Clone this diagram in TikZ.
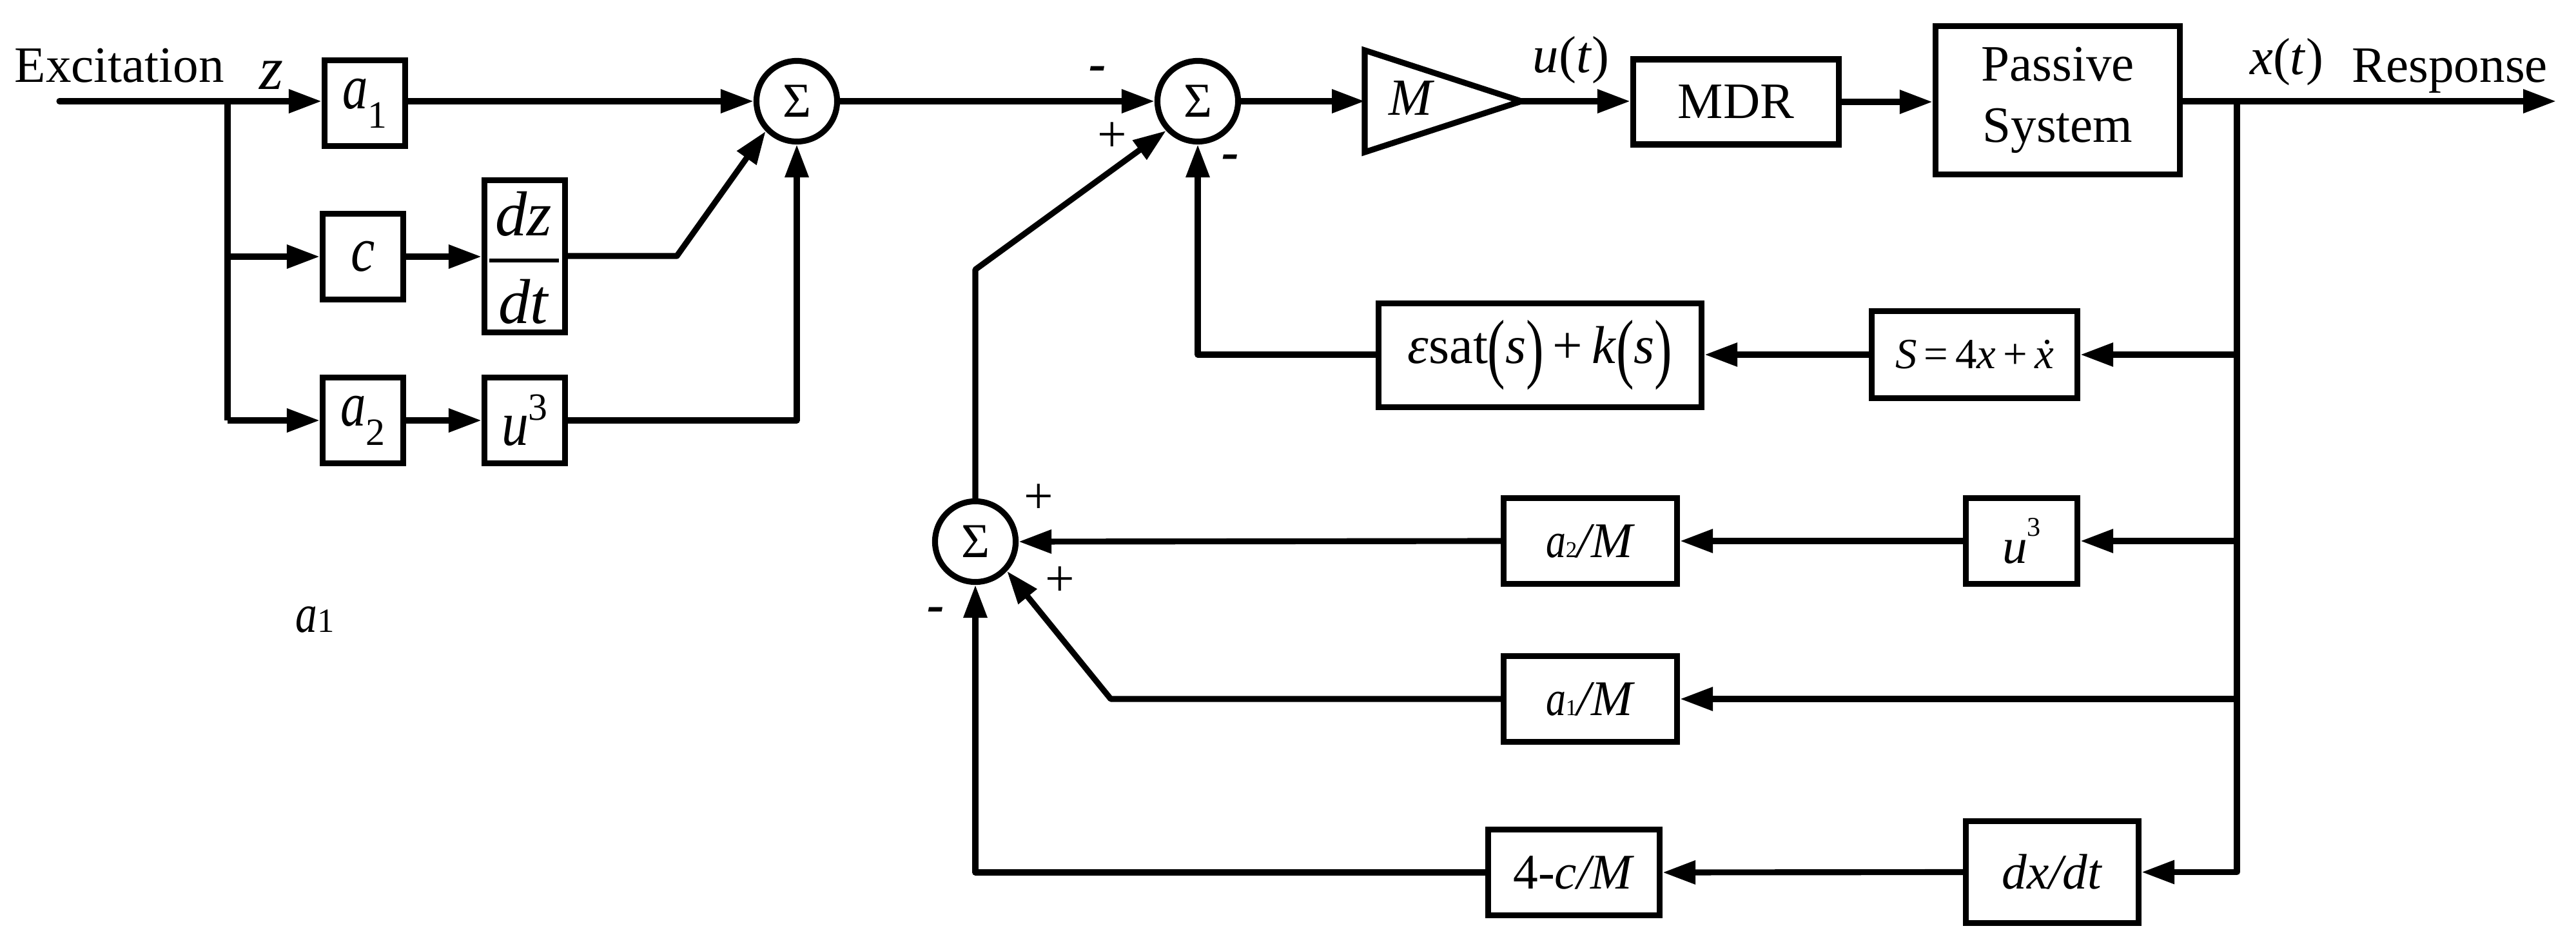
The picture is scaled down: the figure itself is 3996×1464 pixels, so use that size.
\documentclass[tikz,border=0pt]{standalone}
\usepackage{fontspec}
\setmainfont{Liberation Serif}
\usepackage{graphicx}
\usetikzlibrary{arrows.meta}
\newcommand{\fsz}[1]{\fontsize{#1}{#1}\selectfont}
\newcommand{\ca}{\scalebox{0.8}[1]{\itshape a}}
\newcommand{\cu}{\scalebox{0.85}[1]{\itshape u}}
\newcommand{\bp}[1]{\raisebox{-0.2em}{\scalebox{1}[1.45]{#1}}}
\begin{document}
\begin{tikzpicture}[x=0.01cm,y=-0.01cm,
  blk/.style={draw, line width=2.6pt, inner sep=0pt},
  sumn/.style={circle, draw, line width=2.6pt, minimum size=1.25cm, inner sep=0pt, font=\fsz{21.5pt}},
  conn/.style={line width=2.6pt, line join=round},
  arr/.style={conn, -{Triangle[length=14.5pt,width=10pt]}},
  lab/.style={inner sep=0pt},
  sgn/.style={inner sep=0pt, font=\fsz{23pt}},
  big/.style={font=\fsz{28pt}},
  mid/.style={font=\fsz{22pt}}]
\useasboundingbox (0,0) rectangle (3996,1464);

% ---- left part ----
\node[lab, anchor=base west, font=\fsz{22.5pt}] (exctext) at (22,128) {Excitation};
\node[lab, font=\fsz{27pt}\itshape] (zlab) at (421,117) {z};
\node[blk, big, minimum width=1.25cm, minimum height=1.33cm] (a1) at (566,160) {\ca\raisebox{-8.5pt}{\fsz{17pt}1}};
\node[blk, big, minimum width=1.25cm, minimum height=1.33cm] (c) at (563,398) {\scalebox{0.85}[1]{\itshape c}};
\node[blk, minimum width=1.25cm, minimum height=2.36cm] (dzdt) at (814,397.5) {};
\node[lab, big] (dz) at (812,332) {\itshape dz};
\node[lab, big] (dt) at (812,468) {\itshape dt};
\draw[line width=0.06cm] (759,404) -- (867,404);
\node[blk, big, minimum width=1.25cm, minimum height=1.33cm] (a2) at (563,652) {\ca\raisebox{-8.5pt}{\fsz{17pt}2}};
\node[blk, big, minimum width=1.25cm, minimum height=1.33cm] (u3t) at (814,652) {\cu\raisebox{11pt}{\fsz{17pt}3}};
\node[sumn] (sum1) at (1236,157) {Σ};
\node[sumn] (sum2) at (1858,157) {Σ};

% ---- forward path ----
\coordinate (mL) at (2117,157);
\coordinate (mT) at (2360,157);
\draw[line width=2.6pt] (2117,78) -- (mT) -- (2117,236) -- cycle;
\node[lab, font=\fsz{23pt}\itshape] (mlab) at (2188,152) {M};
\node[lab, font=\fsz{23pt}] (ulab) at (2437,93) {\textit{u}(\textit{t})};
\node[blk, font=\fsz{22.5pt}, minimum width=3.19cm, minimum height=1.32cm] (mdr) at (2693,158) {MDR};
\node[blk, font=\fontsize{22.5pt}{27pt}\selectfont, align=center, minimum width=3.79cm, minimum height=2.30cm] (ps) at (3192,155.5) {Passive\\System};
\node[lab, font=\fsz{23pt}] (xlab) at (3547,96) {\textit{x}(\textit{t})};
\node[lab, anchor=base west, font=\fsz{22.5pt}] (resp) at (3648,128) {Response};

% ---- feedback blocks ----
\node[blk, font=\fsz{23.5pt}, minimum width=5.01cm, minimum height=1.61cm] (es) at (2389,551) {\textit{ε}sat\bp{(}\textit{s}\bp{)}\,+\,\textit{k}\bp{(}\textit{s}\bp{)}};
\node[blk, font=\fsz{19pt}, minimum width=3.19cm, minimum height=1.35cm] (sb) at (3063,550) {\textit{S}\,=\,4\textit{x}\,+\,\textit{\.{x}}};
\node[sumn] (sum3) at (1513,840) {Σ};
\node[blk, mid, minimum width=2.69cm, minimum height=1.33cm] (a2m) at (2467,839) {\ca\fsz{10pt}2\fsz{22pt}\textit{/M}};
\node[blk, mid, minimum width=1.73cm, minimum height=1.33cm] (u3l) at (3136,839) {\textit{u}\raisebox{0.55em}{\fsz{12pt}3}};
\node[blk, mid, minimum width=2.69cm, minimum height=1.33cm] (a1m) at (2467,1084) {\ca\fsz{10pt}1\fsz{22pt}\textit{/M}};
\node[blk, mid, minimum width=2.66cm, minimum height=1.33cm] (cm) at (2441.5,1353) {4-\textit{c/M}};
\node[blk, mid, minimum width=2.68cm, minimum height=1.58cm] (dxdt) at (3183.5,1352.5) {\textit{dx/dt}};
\node[lab, font=\fsz{24pt}] (stray) at (489,961) {\ca\fsz{15pt}1};

% ---- signs ----
\node[sgn] (s1) at (1703,114) {\textbf{\textit{-}}};
\node[sgn] (s2) at (1725,213) {+};
\node[sgn] (s3) at (1909,251) {\textbf{\textit{-}}};
\node[sgn] (s4) at (1611,774) {+};
\node[sgn] (s5) at (1644,902) {+};
\node[sgn] (s6) at (1452,953) {\textbf{\textit{-}}};

% ---- connectors ----
\coordinate (exc) at (92,157);
\coordinate (brL) at (353,157);
\coordinate (k1) at (1050,397);
\coordinate (brR) at (3470,157);
\coordinate (outR) at (3965,157);
\coordinate (k2) at (1723,1084);
\coordinate (k3) at (1513,418);

\draw[arr, line cap=round] (exc) -- (exc -| a1.west);
\draw[conn] (brL) -- (brL |- a2);
\draw[arr] (brL |- c) -- (c.west);
\draw[arr] (brL |- a2) -- (a2.west);
\draw[arr] (c.east) -- (dzdt.west |- c);
\draw[arr] (a2.east) -- (u3t.west);
\draw[arr] (a1.east |- sum1) -- (sum1.west);
\draw[arr] (dzdt.east |- k1) -- (k1) -- (sum1.224);
\draw[arr] (u3t.east) -- (u3t.east -| sum1) -- (sum1.south);
\draw[arr] (sum1.east) -- (sum2.west);
\draw[arr] (sum2.east) -- (mL);
\draw[arr] (mT) -- (mT -| mdr.west);
\draw[arr] (mdr.east) -- (mdr.east -| ps.west);
\draw[arr] (ps.east |- brR) -- (outR);
\draw[arr] (brR) -- (brR |- dxdt) -- (dxdt.east);
\draw[arr] (brR |- sb) -- (sb.east);
\draw[arr] (brR |- u3l) -- (u3l.east);
\draw[arr] (brR |- a1m) -- (a1m.east);
\draw[arr] (sb.west) -- (es.east |- sb);
\draw[arr] (es.west |- sb) -- (sb -| sum2) -- (sum2.south);
\draw[arr] (u3l.west) -- (a2m.east);
\draw[arr] (a2m.west) -- (sum3.east);
\draw[arr] (a1m.west) -- (k2) -- (sum3.-43);
\draw[arr] (dxdt.west) -- (cm.east);
\draw[arr] (cm.west) -- (cm.west -| sum3) -- (sum3.south);
\draw[arr] (sum3.north) -- (k3) -- (sum2.223);
\end{tikzpicture}
\end{document}
